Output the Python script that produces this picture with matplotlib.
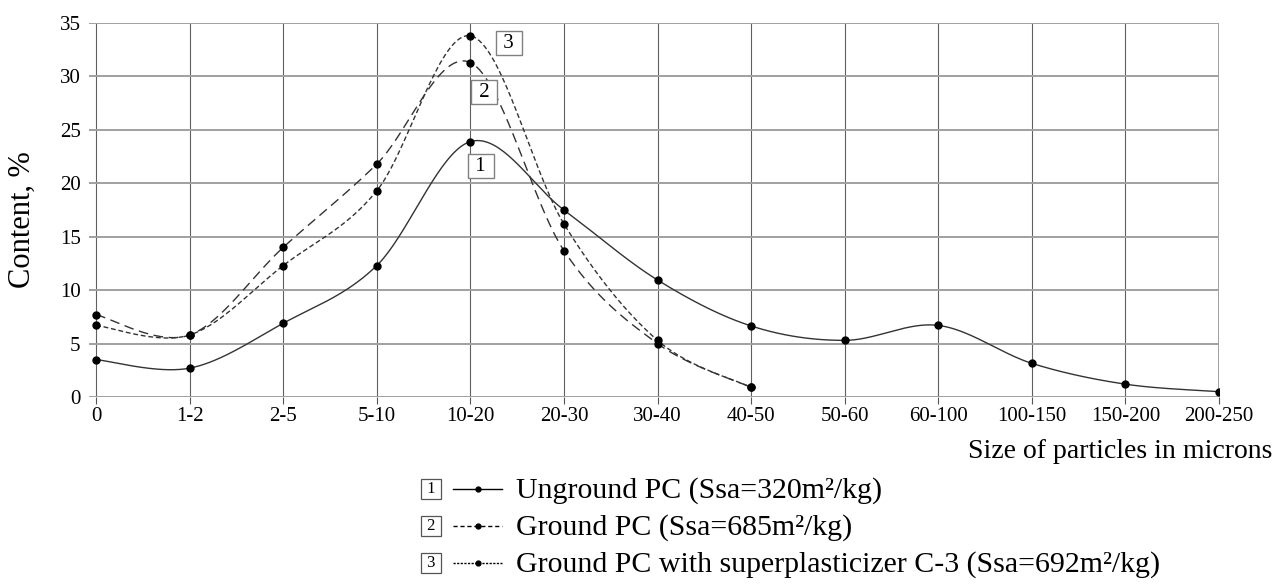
import matplotlib
matplotlib.use("Agg")
import matplotlib.pyplot as plt
import numpy as np
from matplotlib.lines import Line2D

plt.rcParams["font.family"] = ["Liberation Serif", "DejaVu Serif"]

# --- Data ------------------------------------------------------------------
categories = ["0", "1-2", "2-5", "5-10", "10-20", "20-30", "30-40", "40-50",
              "50-60", "60-100", "100-150", "150-200", "200-250"]
unground = [3.5, 2.7, 6.9, 12.3, 23.9, 17.5, 10.95, 6.65, 5.3, 6.7, 3.15, 1.2, 0.5]
ground = [7.7, 5.8, 14.0, 21.8, 31.3, 13.7, 5.0, 0.9]
ground_sp = [6.7, 5.8, 12.3, 19.3, 33.8, 16.2, 5.3, 0.9]
series_labels = ["Unground PC (Ssa=320m\u00b2/kg)",
                 "Ground PC (Ssa=685m\u00b2/kg)",
                 "Ground PC with superplasticizer C-3 (Ssa=692m\u00b2/kg)"]

W, H = 1285, 586
LINE_COL = "#333333"
DASH_LONG = (0, (7, 4))
DASH_SHORT = (0, (3.5, 2))


def smooth(xs, ys, n=40):
    """Bezier smoothing through the points (Excel-style smoothed line)."""
    p = np.column_stack([xs, ys]).astype(float)
    ext = np.vstack([p[0], p, p[-1]])
    out = []
    t = np.linspace(0, 1, n)[:, None]
    for i in range(len(p) - 1):
        p0, p1, p2, p3 = ext[i], ext[i + 1], ext[i + 2], ext[i + 3]
        c1 = p1 + (p2 - p0) / 6.0
        c2 = p2 - (p3 - p1) / 6.0
        seg = ((1 - t) ** 3) * p1 + 3 * ((1 - t) ** 2) * t * c1 \
            + 3 * (1 - t) * t ** 2 * c2 + t ** 3 * p2
        out.append(seg if i == 0 else seg[1:])
    s = np.vstack(out)
    return s[:, 0], s[:, 1]


fig = plt.figure(figsize=(W / 100, H / 100), dpi=100)
ax = fig.add_axes([89 / W, 1 - 397 / H, (1219 - 89) / W, (397 - 23) / H])

x_all = np.arange(len(categories))
for vals, ls in [(unground, "-"), (ground, DASH_LONG), (ground_sp, DASH_SHORT)]:
    xs = x_all[:len(vals)]
    sx, sy = smooth(xs, vals)
    ax.plot(sx, sy, color=LINE_COL, linewidth=1.0, linestyle=ls, zorder=3)
    ax.plot(xs, vals, "o", color="black", markersize=5, zorder=4)

ax.set_xlim(-0.075, len(categories) - 1)
ax.set_ylim(0, 35)
ax.set_yticks(np.arange(0, 36, 5))
ax.set_xticks(x_all)
ax.set_xticklabels(categories)
ax.tick_params(axis="x", length=5, width=0.8, color="#555555", labelsize=15, pad=2)
ax.tick_params(axis="y", length=0, labelsize=15, pad=6)
for s in ax.spines.values():
    s.set_visible(False)
ax.grid(axis="y", color="#a0a0a0", linewidth=1.4)
ax.grid(axis="x", color="#606060", linewidth=0.8)
ax.axvline(len(categories) - 1, color="#a0a0a0", linewidth=1.4)
ax.set_axisbelow(True)

# numbered boxes on the curves
box = dict(boxstyle="square,pad=0.12", facecolor="white", edgecolor="#808080", linewidth=1)
for num, (bx, by) in zip(["3", "2", "1"], [(4.41, 33.1), (4.15, 28.5), (4.11, 21.6)]):
    ax.text(bx, by, f" {num} ", fontsize=15, ha="center", va="center", bbox=box, zorder=5)

fig.text(22 / W, 1 - 220 / H, "Content, %", rotation=90, fontsize=22,
         ha="center", va="center")
fig.text(1272 / W, 1 - 451 / H, "Size of particles in microns", fontsize=20,
         ha="right", va="center")

# --- Legend ------------------------------------------------------------------
rows = [491, 528, 565]
styles = ["-", (0, (3, 2)), (0, (1.6, 1))]
lbox = dict(boxstyle="square,pad=0.1", facecolor="white", edgecolor="#555555", linewidth=0.9)
for i, (py, lab, ls) in enumerate(zip(rows, series_labels, styles)):
    yf = 1 - py / H
    yl = 1 - (py - 2) / H
    fig.text(431 / W, yl, f" {i + 1} ", fontsize=12, ha="center", va="center", bbox=lbox)
    fig.add_artist(Line2D([453 / W, 502 / W], [yl, yl], color="black",
                          linewidth=1.0, linestyle=ls, transform=fig.transFigure))
    fig.add_artist(Line2D([478 / W], [yl], marker="o", markersize=3.5,
                          color="black", transform=fig.transFigure))
    fig.text(516 / W, yf, lab, fontsize=21.5, ha="left", va="center")

fig.savefig("out.png", dpi=100)
